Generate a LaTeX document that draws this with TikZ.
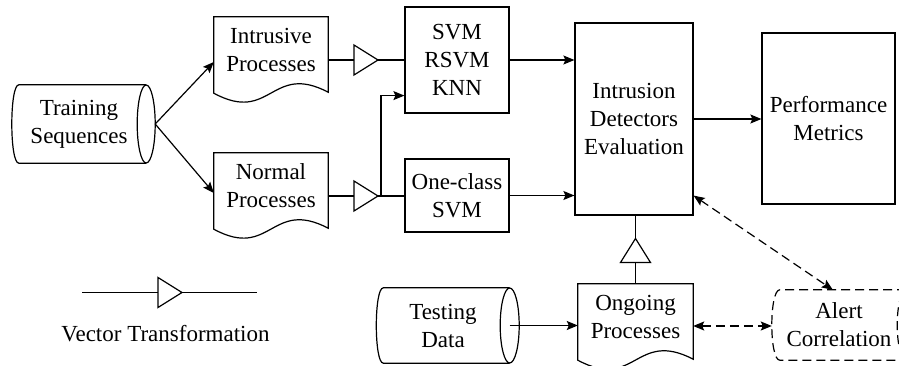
\documentclass[tikz,border=0pt]{standalone}
\usepackage{fontspec}
\setmainfont{Liberation Serif}
\usetikzlibrary{calc,arrows.meta}
\tikzset{
  lw/.style={line width=1.2pt},
  shapebox/.style={inner sep=0pt, align=center, font=\fontsize{23}{28}\selectfont},
  rectbox/.style={shapebox, draw, lw},
  arr/.style={lw, -{Stealth[length=11pt,width=9pt,inset=2pt]}},
  dasharr/.style={lw, dash pattern=on 9pt off 5pt, {Stealth[length=11pt,width=9pt,inset=2pt]}-{Stealth[length=11pt,width=9pt,inset=2pt]}},
  vt/.pic={\draw[line width=1.2pt, fill=white] (-12,-15) -- (12,0) -- (-12,15) -- cycle;
           \coordinate (-in) at (-12,0); \coordinate (-out) at (12,0);}
}
\newcommand{\docout}[1]{%
  \draw[lw] (#1.north west) -- (#1.north east) -- ($(#1.south east)+(0,9)$)
    .. controls ($(#1.south)+(0,-21)$) and ($(#1.south)+(0,41)$) .. ($(#1.south west)+(0,10)$) -- cycle;}
% node, left rx, right rx, right ry, options
\newcommand{\cylout}[5]{%
  \draw[lw,#5] (#1.north east) -- ($(#1.north west)+(#2,0)$)
    .. controls ($(#1.north west)+(-#2/3,0)$) and ($(#1.south west)+(-#2/3,0)$) .. ($(#1.south west)+(#2,0)$)
    -- (#1.south east);
  \draw[lw,#5] (#1.east) ellipse [x radius=#3, y radius=#4];}
\begin{document}
\begin{tikzpicture}[x=1pt,y=-1pt]
\useasboundingbox (0,0) rectangle (899,366);
\fill[white] (0,0) rectangle (899,366);

% nodes
\node[shapebox, minimum width=134pt, minimum height=78pt] (ts) at (79,124) {Training\\Sequences};
\node[shapebox, minimum width=114pt, minimum height=66pt] (ip) at (271,50) {Intrusive\\Processes};
\node[shapebox, minimum width=114pt, minimum height=66pt] (np) at (271,186) {Normal\\Processes};
\node[rectbox, minimum width=104pt, minimum height=106pt] (svm) at (457,60) {SVM\\RSVM\\KNN};
\node[rectbox, minimum width=104pt, minimum height=73pt] (oc) at (457,195.5) {One-class\\SVM};
\node[rectbox, minimum width=118pt, minimum height=192pt] (ide) at (634,119) {Intrusion\\Detectors\\Evaluation};
\node[rectbox, minimum width=133pt, minimum height=171pt] (pm) at (828.5,118.5) {Performance\\Metrics};
\node[shapebox, minimum width=133pt, minimum height=75pt] (td) at (443,325.5) {Testing\\Data};
\node[shapebox, minimum width=115pt, minimum height=66pt] (od) at (635.5,317) {Ongoing\\Processes};
\node[shapebox, minimum width=134pt, minimum height=70pt] (ac) at (839,325) {Alert\\Correlation};
\node[shapebox] (vtl) at (165.5,334) {Vector Transformation};

% shape outlines
\cylout{ts}{7}{9}{39}{}
\cylout{td}{7}{9.5}{37.5}{}
\cylout{ac}{8}{9}{35}{dash pattern=on 9pt off 5pt}
\docout{ip}
\docout{np}
\docout{od}

% vector transformation symbols
\pic (t1) at (366,60) {vt};
\pic (t2) at (366,196) {vt};
\pic[rotate=90] (t3) at (635.5,250.5) {vt};
\pic (t4) at (170,292.5) {vt};

% connectors
\coordinate (tsE) at ($(ts.east)+(9,0)$);
\draw[arr] (tsE) -- ($(ip.west)+(0,12)$);
\draw[arr] (tsE) -- ($(np.west)+(0,7)$);
\draw[lw] ($(ip.east)+(0,10)$) -- (t1-in);
\draw[lw] (t1-out) -- (t1-out -| svm.west);
\draw[lw] ($(np.east)+(0,10)$) -- (t2-in);
\draw[lw] (t2-out) -- (t2-out -| oc.west);
\coordinate (j) at ($(t2-out)+(3,0)$);
\draw[arr] (j) |- ($(svm.south west)+(0,-18)$);
\draw[arr] (svm.east) -- (svm.east -| ide.west);
\draw[arr] (oc.east) -- (oc.east -| ide.west);
\draw[arr] (ide.east) -- (ide.east -| pm.west);
\draw[lw] (t3-out |- ide.south) -- (t3-out);
\draw[lw] (t3-in) -- (t3-in |- od.north);
\draw[arr] (td.east) -- (td.east -| od.west);
\coordinate (odR) at ($(od.east)+(0,9)$);
\draw[dasharr] (odR) -- (odR -| ac.west);
\coordinate (ideR) at ($(ide.south east)+(0,-20)$);
\coordinate (acN) at ($(ac.north west)+(61,0)$);
\draw[dasharr] (ideR) -- (acN);

% legend
\coordinate (lgL) at (82,292.5);
\coordinate (lgR) at (257,292.5);
\draw[lw] (lgL) -- (t4-in);
\draw[lw] (t4-out) -- (lgR);
\end{tikzpicture}
\end{document}
